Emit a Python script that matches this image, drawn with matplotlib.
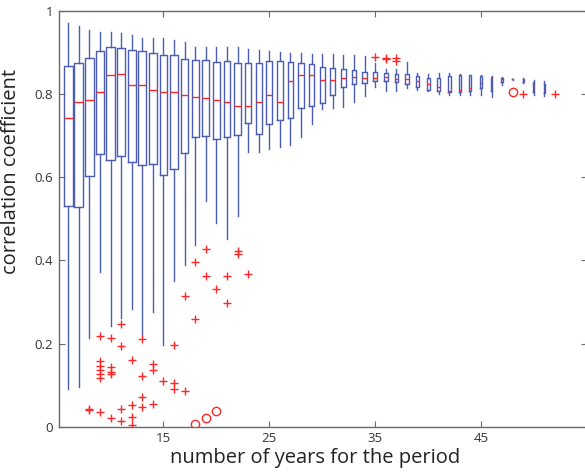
import matplotlib
matplotlib.use("Agg")
import matplotlib.pyplot as plt
import numpy as np

plt.rcParams['font.family'] = ['Open Sans', 'DejaVu Sans']

# ---- data ----
years = list(range(6, 52))
whisker_low = [0.090, 0.096, 0.214, 0.372, 0.242, 0.262, 0.282, 0.218, 0.276, 0.196,
               0.350, 0.388, 0.438, 0.542, 0.489, 0.452, 0.506, 0.662, 0.662, 0.668,
               0.672, 0.678, 0.698, 0.728, 0.764, 0.766, 0.768, 0.782, 0.795, 0.818,
               0.807, 0.807, 0.814, 0.810, 0.807, 0.800, 0.799, 0.797, 0.797, 0.797,
               0.793, 0.822, 0.835, 0.826, 0.798, 0.796]
q1 = [0.532, 0.529, 0.602, 0.656, 0.642, 0.650, 0.636, 0.630, 0.632, 0.606,
      0.620, 0.658, 0.698, 0.699, 0.691, 0.696, 0.702, 0.730, 0.705, 0.727,
      0.737, 0.743, 0.766, 0.771, 0.778, 0.799, 0.818, 0.824, 0.827, 0.831,
      0.831, 0.830, 0.824, 0.818, 0.811, 0.808, 0.805, 0.805, 0.807, 0.814,
      0.808, 0.828, 0.836, 0.828, 0.805, 0.803]
medians = [0.743, 0.782, 0.786, 0.806, 0.846, 0.849, 0.823, 0.821, 0.810, 0.804,
           0.806, 0.799, 0.794, 0.790, 0.786, 0.780, 0.772, 0.772, 0.780, 0.798,
           0.782, 0.832, 0.846, 0.845, 0.834, 0.834, 0.839, 0.841, 0.838, 0.838,
           0.841, 0.837, 0.837, 0.832, 0.824, 0.816, 0.808, 0.810, 0.814, 0.827,
           0.840, 0.837, 0.836, 0.832, 0.815, 0.812]
q3 = [0.867, 0.875, 0.887, 0.904, 0.914, 0.910, 0.907, 0.904, 0.899, 0.894,
      0.894, 0.885, 0.882, 0.881, 0.878, 0.880, 0.874, 0.876, 0.874, 0.879,
      0.880, 0.878, 0.876, 0.873, 0.866, 0.862, 0.860, 0.857, 0.854, 0.853,
      0.850, 0.848, 0.848, 0.843, 0.840, 0.838, 0.844, 0.846, 0.845, 0.844,
      0.842, 0.840, 0.836, 0.836, 0.828, 0.825]
whisker_high = [0.972, 0.965, 0.954, 0.949, 0.950, 0.946, 0.942, 0.936, 0.936, 0.934,
                0.930, 0.925, 0.913, 0.913, 0.913, 0.914, 0.913, 0.908, 0.906, 0.904,
                0.901, 0.900, 0.898, 0.897, 0.897, 0.896, 0.895, 0.893, 0.891, 0.874,
                0.861, 0.861, 0.878, 0.852, 0.849, 0.850, 0.851, 0.849, 0.847, 0.846,
                0.843, 0.842, 0.837, 0.838, 0.834, 0.832]

# outliers shown as '+'
plus_x = [8, 8, 9, 9, 9, 9, 9, 9, 9, 10, 10, 10, 10, 10, 11, 11, 11, 11,
          12, 12, 12, 12, 13, 13, 13, 13, 14, 14, 14, 15, 16, 16, 16, 17, 17,
          18, 18, 19, 19, 20, 21, 21, 22, 22, 23, 35, 36, 36, 37, 37, 49, 52]
plus_y = [0.041, 0.043, 0.218, 0.158, 0.147, 0.136, 0.126, 0.116, 0.035,
          0.214, 0.144, 0.132, 0.126, 0.022, 0.248, 0.194, 0.042, 0.013,
          0.160, 0.052, 0.024, 0.005, 0.210, 0.122, 0.072, 0.048,
          0.152, 0.136, 0.054, 0.110, 0.196, 0.106, 0.091, 0.314, 0.086,
          0.395, 0.260, 0.427, 0.363, 0.332, 0.363, 0.298, 0.422, 0.415, 0.367,
          0.890, 0.887, 0.885, 0.887, 0.880, 0.800, 0.800]
# outliers shown as 'o'
circ_x = [18, 19, 20, 48]
circ_y = [0.006, 0.021, 0.038, 0.804]

xticks = [15, 25, 35, 45]
yticks = [0, 0.2, 0.4, 0.6, 0.8, 1.0]
ytick_labels = ['0', '0.2', '0.4', '0.6', '0.8', '1']

BLUE = '#4a5cb4'
RED = '#ff2626'
GRAY = '#6a6a6a'

fig = plt.figure(figsize=(5.85, 4.72), dpi=100)
ax = fig.add_axes([0.1003, 0.096, 0.9027, 0.8807])

stats = []
for lo, a, m, b, hi in zip(whisker_low, q1, medians, q3, whisker_high):
    stats.append({'whislo': lo, 'q1': a, 'med': m, 'q3': b, 'whishi': hi, 'fliers': []})

widths = [0.85 * (57 - n) / 51 for n in years]

ax.bxp(stats, positions=years, widths=widths, showcaps=False, showfliers=False,
       manage_ticks=False,
       boxprops=dict(color=BLUE, linewidth=1.0),
       whiskerprops=dict(color=BLUE, linewidth=1.0),
       medianprops=dict(color=RED, linewidth=1.0))

ax.plot(plus_x, plus_y, linestyle='none', marker='+', color=RED, markersize=6, mew=1.0)
ax.plot(circ_x, circ_y, linestyle='none', marker='o', mfc='none', mec=RED, markersize=6, mew=1.0)

ax.set_xlim(5.1, 55.0)
ax.set_ylim(0, 1)
ax.set_xticks(xticks)
ax.set_xticklabels([str(t) for t in xticks])
ax.set_yticks(yticks)
ax.set_yticklabels(ytick_labels)

for s in ax.spines.values():
    s.set_color(GRAY)
    s.set_linewidth(1.0)
ax.tick_params(direction='in', length=4, width=0.8, color=GRAY, labelsize=9.5,
               labelcolor='#333333', top=True, right=True, pad=4)

ax.set_xlabel('number of years for the period', fontsize=14.5, color='#222222')
ax.xaxis.set_label_coords(0.485, -0.052)
ax.set_ylabel('correlation coefficient', fontsize=14.5, color='#222222')
ax.yaxis.set_label_coords(-0.072, 0.615)

fig.savefig('out.png', dpi=100)
